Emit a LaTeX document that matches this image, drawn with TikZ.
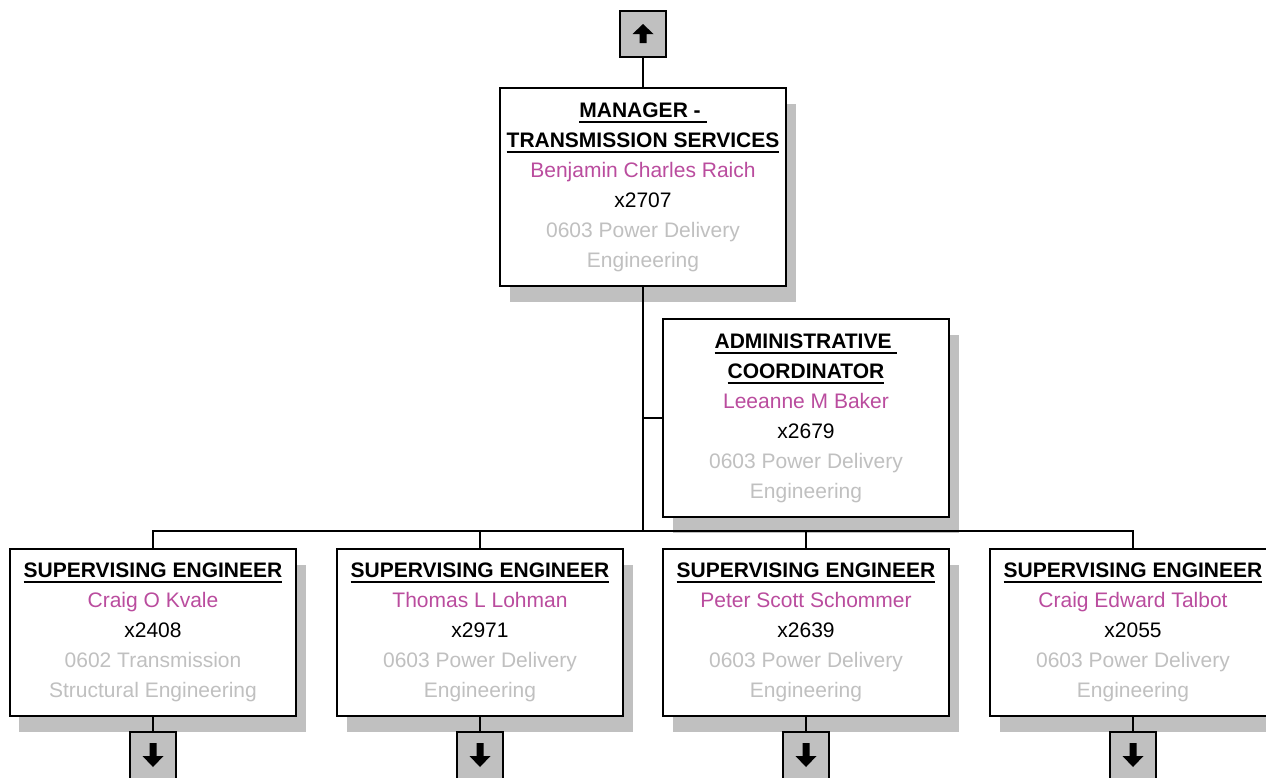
\documentclass[tikz,border=0pt]{standalone}
\usepackage{fontspec}
\setmainfont{Liberation Sans}
\usetikzlibrary{shadows}
\definecolor{namepink}{RGB}{186,76,158}
\definecolor{deptgray}{RGB}{192,192,192}
\definecolor{boxshade}{RGB}{192,192,192}
\newsavebox{\ttlbox}
\newcommand{\ttl}[1]{\sbox{\ttlbox}{\bfseries #1}\leavevmode
  \rlap{\rule[-3.2pt]{\wd\ttlbox}{1.1pt}}\usebox{\ttlbox}}
\newcommand{\nm}[1]{\textcolor{namepink}{#1}}
\newcommand{\dpt}[1]{\textcolor{deptgray}{#1}}

\begin{document}
\begin{tikzpicture}[x=0.2mm, y=-0.2mm]
% estilos separados
\tikzset{
  post/.style={draw, fill=white, line width=0.42mm, align=center, inner sep=0pt,
    minimum width=57.2mm, font=\fontsize{11.95}{17.07}\selectfont,
    drop shadow={shadow xshift=1.9mm, shadow yshift=-3.1mm, fill=boxshade, opacity=1}},
  nav/.style={draw, fill=boxshade, line width=0.42mm, minimum width=9.2mm, minimum height=9.2mm, inner sep=0pt},
  link/.style={line width=0.42mm}
}
\useasboundingbox (0,0) rectangle (1266,777);
\clip (0,0) rectangle (1266,777);

\node[nav] (up) at (643,34) {};
\fill (up) +(0,-10) -- +(10.5,0) -- +(3.5,0) -- +(3.5,9) -- +(-3.5,9) -- +(-3.5,0) -- +(-10.5,0) -- cycle;

\node[post, minimum height=39.6mm] (mgr) at (643,187)
  {\ttl{MANAGER -\ }\\ \ttl{TRANSMISSION SERVICES}\\ \nm{Benjamin Charles Raich}\\ x2707\\
   \dpt{0603 Power Delivery}\\ \dpt{Engineering}};
\node[post, minimum height=39.6mm] (adm) at (806,418)
  {\ttl{ADMINISTRATIVE\ }\\ \ttl{COORDINATOR}\\ \nm{Leeanne M Baker}\\ x2679\\
   \dpt{0603 Power Delivery}\\ \dpt{Engineering}};

\node[post, minimum height=33.4mm] (se1) at (153,632.5)
  {\ttl{SUPERVISING ENGINEER}\\ \nm{Craig O Kvale}\\ x2408\\
   \dpt{0602 Transmission}\\ \dpt{Structural Engineering}};
\node[post, minimum height=33.4mm] (se2) at (480,632.5)
  {\ttl{SUPERVISING ENGINEER}\\ \nm{Thomas L Lohman}\\ x2971\\
   \dpt{0603 Power Delivery}\\ \dpt{Engineering}};
\node[post, minimum height=33.4mm] (se3) at (806,632.5)
  {\ttl{SUPERVISING ENGINEER}\\ \nm{Peter Scott Schommer}\\ x2639\\
   \dpt{0603 Power Delivery}\\ \dpt{Engineering}};
\node[post, minimum height=33.4mm] (se4) at (1133,632.5)
  {\ttl{SUPERVISING ENGINEER}\\ \nm{Craig Edward Talbot}\\ x2055\\
   \dpt{0603 Power Delivery}\\ \dpt{Engineering}};

\coordinate (bus) at (643,531);

\draw[link] (up) -- (mgr);
\draw[link] (mgr.south) -- (bus);
\draw[link] (mgr.south) |- (adm.west);
\draw[link] (se1.north) |- (bus) -| (se4.north);
\draw[link] (se2.north) -- (se2.north |- bus);
\draw[link] (se3.north) -- (se3.north |- bus);

\foreach \n/\c in {1/153, 2/480, 3/806, 4/1133} {
  \node[nav, minimum height=10mm] (dn\n) at (\c,757) {};
  \draw[link] (se\n) -- (dn\n);
  \fill (dn\n) +(0,10) -- +(10.5,-1) -- +(3.5,-1) -- +(3.5,-14) -- +(-3.5,-14) -- +(-3.5,-1) -- +(-10.5,-1) -- cycle;
}
\end{tikzpicture}
\end{document}
